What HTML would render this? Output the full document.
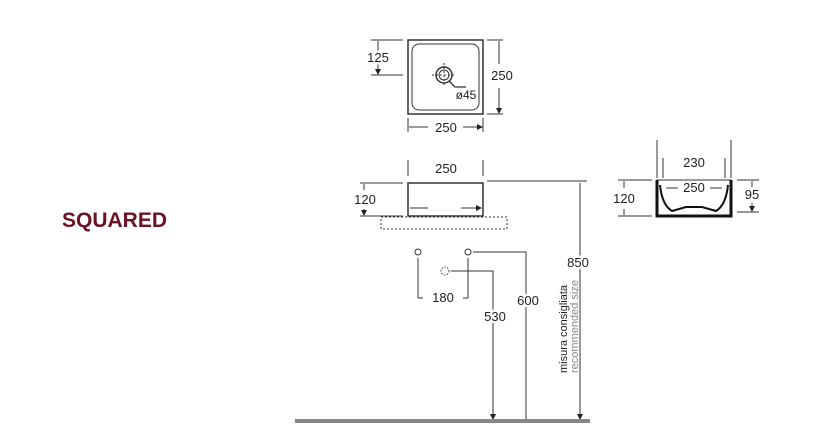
<!DOCTYPE html>
<html><head><style>body{margin:0;background:#fff}svg{display:block}.t text{paint-order:stroke;stroke:#fff;stroke-width:5px}</style></head><body>
<svg width="831" height="434" viewBox="0 0 831 434" xmlns="http://www.w3.org/2000/svg" font-family="'Liberation Sans',sans-serif" font-size="13" fill="#222">
<defs><marker id="a" markerWidth="6" markerHeight="6" refX="5" refY="3" orient="auto"><path d="M0,0 L6,3 L0,6z" fill="#222"/></marker></defs>
<text x="62" y="227" font-size="21" font-weight="bold" fill="#6b1225">SQUARED</text>
<g stroke="#333" fill="none" stroke-width="1">
<rect x="408" y="40" width="75" height="74" stroke-width="1.5"/>
<rect x="412" y="44" width="67" height="66" rx="7"/>
<circle cx="444" cy="75" r="8" stroke-width="1.5"/><circle cx="444" cy="75" r="5"/>
<path d="M432 75h24M444 63v24" stroke-dasharray="2 2"/>
<path d="M449 81l6 6h11" stroke-width="1.3"/>
<path d="M371 40h32M371 75h32M487 40h16M487 114h16M408 118v14M483 118v14"/>
<path d="M378 52v-11M378 63v11" marker-end="url(#a)"/>
<path d="M499 64v-23M499 88v25" marker-end="url(#a)"/>
<path d="M428 127h-19M463 127h19" marker-end="url(#a)"/>
<rect x="408" y="183" width="75" height="33" stroke-width="1.5"/>
<path d="M408 160v16M483 160v16M360 183h43M360 216h43M487 181h100M580 183v237"/>
<path d="M364 190v-6M364 209v6" marker-end="url(#a)"/>
<path d="M428 208h-18M461 208h20" marker-end="url(#a)"/>
<rect x="381" y="217" width="126" height="12" stroke-dasharray="2 2"/>
<path d="M580 250v-66M580 278v141" marker-end="url(#a)"/>
<circle cx="418" cy="252" r="3"/><circle cx="468" cy="252" r="3"/>
<circle cx="445" cy="271" r="4" stroke-dasharray="1.5 1.5"/>
<path d="M418 258v40M468 258v40M473 252h53v168M451 271h42v149"/>
<path d="M418 298h5M468 298h-5"/>
<path d="M526 288v-29M526 310v109M493 304v-32M493 330v89" marker-end="url(#a)"/>
<rect x="657" y="180" width="74" height="36"/>
<path d="M657 180v36h74v-36" stroke="#111" stroke-width="3"/>
<path d="M660 185q2 20 12 26l14-4h16l14 4q10-6 12-26" stroke="#111" stroke-width="2"/>
<path d="M657 140v38M731 140v38M663 158v20M725 158v20M618 180h34M618 216h34M737 180h22M737 212h22"/>
<path d="M624 188v-7M624 209v6M752 187v-6M752 203v8" marker-end="url(#a)"/>
<path d="M666 188h12M710 188h12"/>
</g>
<rect x="295" y="419" width="295" height="4" fill="#888"/>
<g text-anchor="middle" class="t">
<text x="378" y="62">125</text><text x="502" y="80">250</text><text x="446" y="132">250</text>
<text x="466" y="99" font-size="12">ø45</text>
<text x="446" y="173">250</text><text x="365" y="204">120</text>
<text x="578" y="267">850</text>
<text x="443" y="302">180</text><text x="528" y="305">600</text><text x="495" y="321">530</text>
<text x="694" y="167">230</text><text x="694" y="192">250</text>
<text x="624" y="203">120</text><text x="752" y="199">95</text>
</g>
<text transform="translate(567,373) rotate(-90)" font-size="11">misura consigliata</text>
<text transform="translate(578,373) rotate(-90)" font-size="11" fill="#888">recommended size</text>
</svg>
</body></html>
